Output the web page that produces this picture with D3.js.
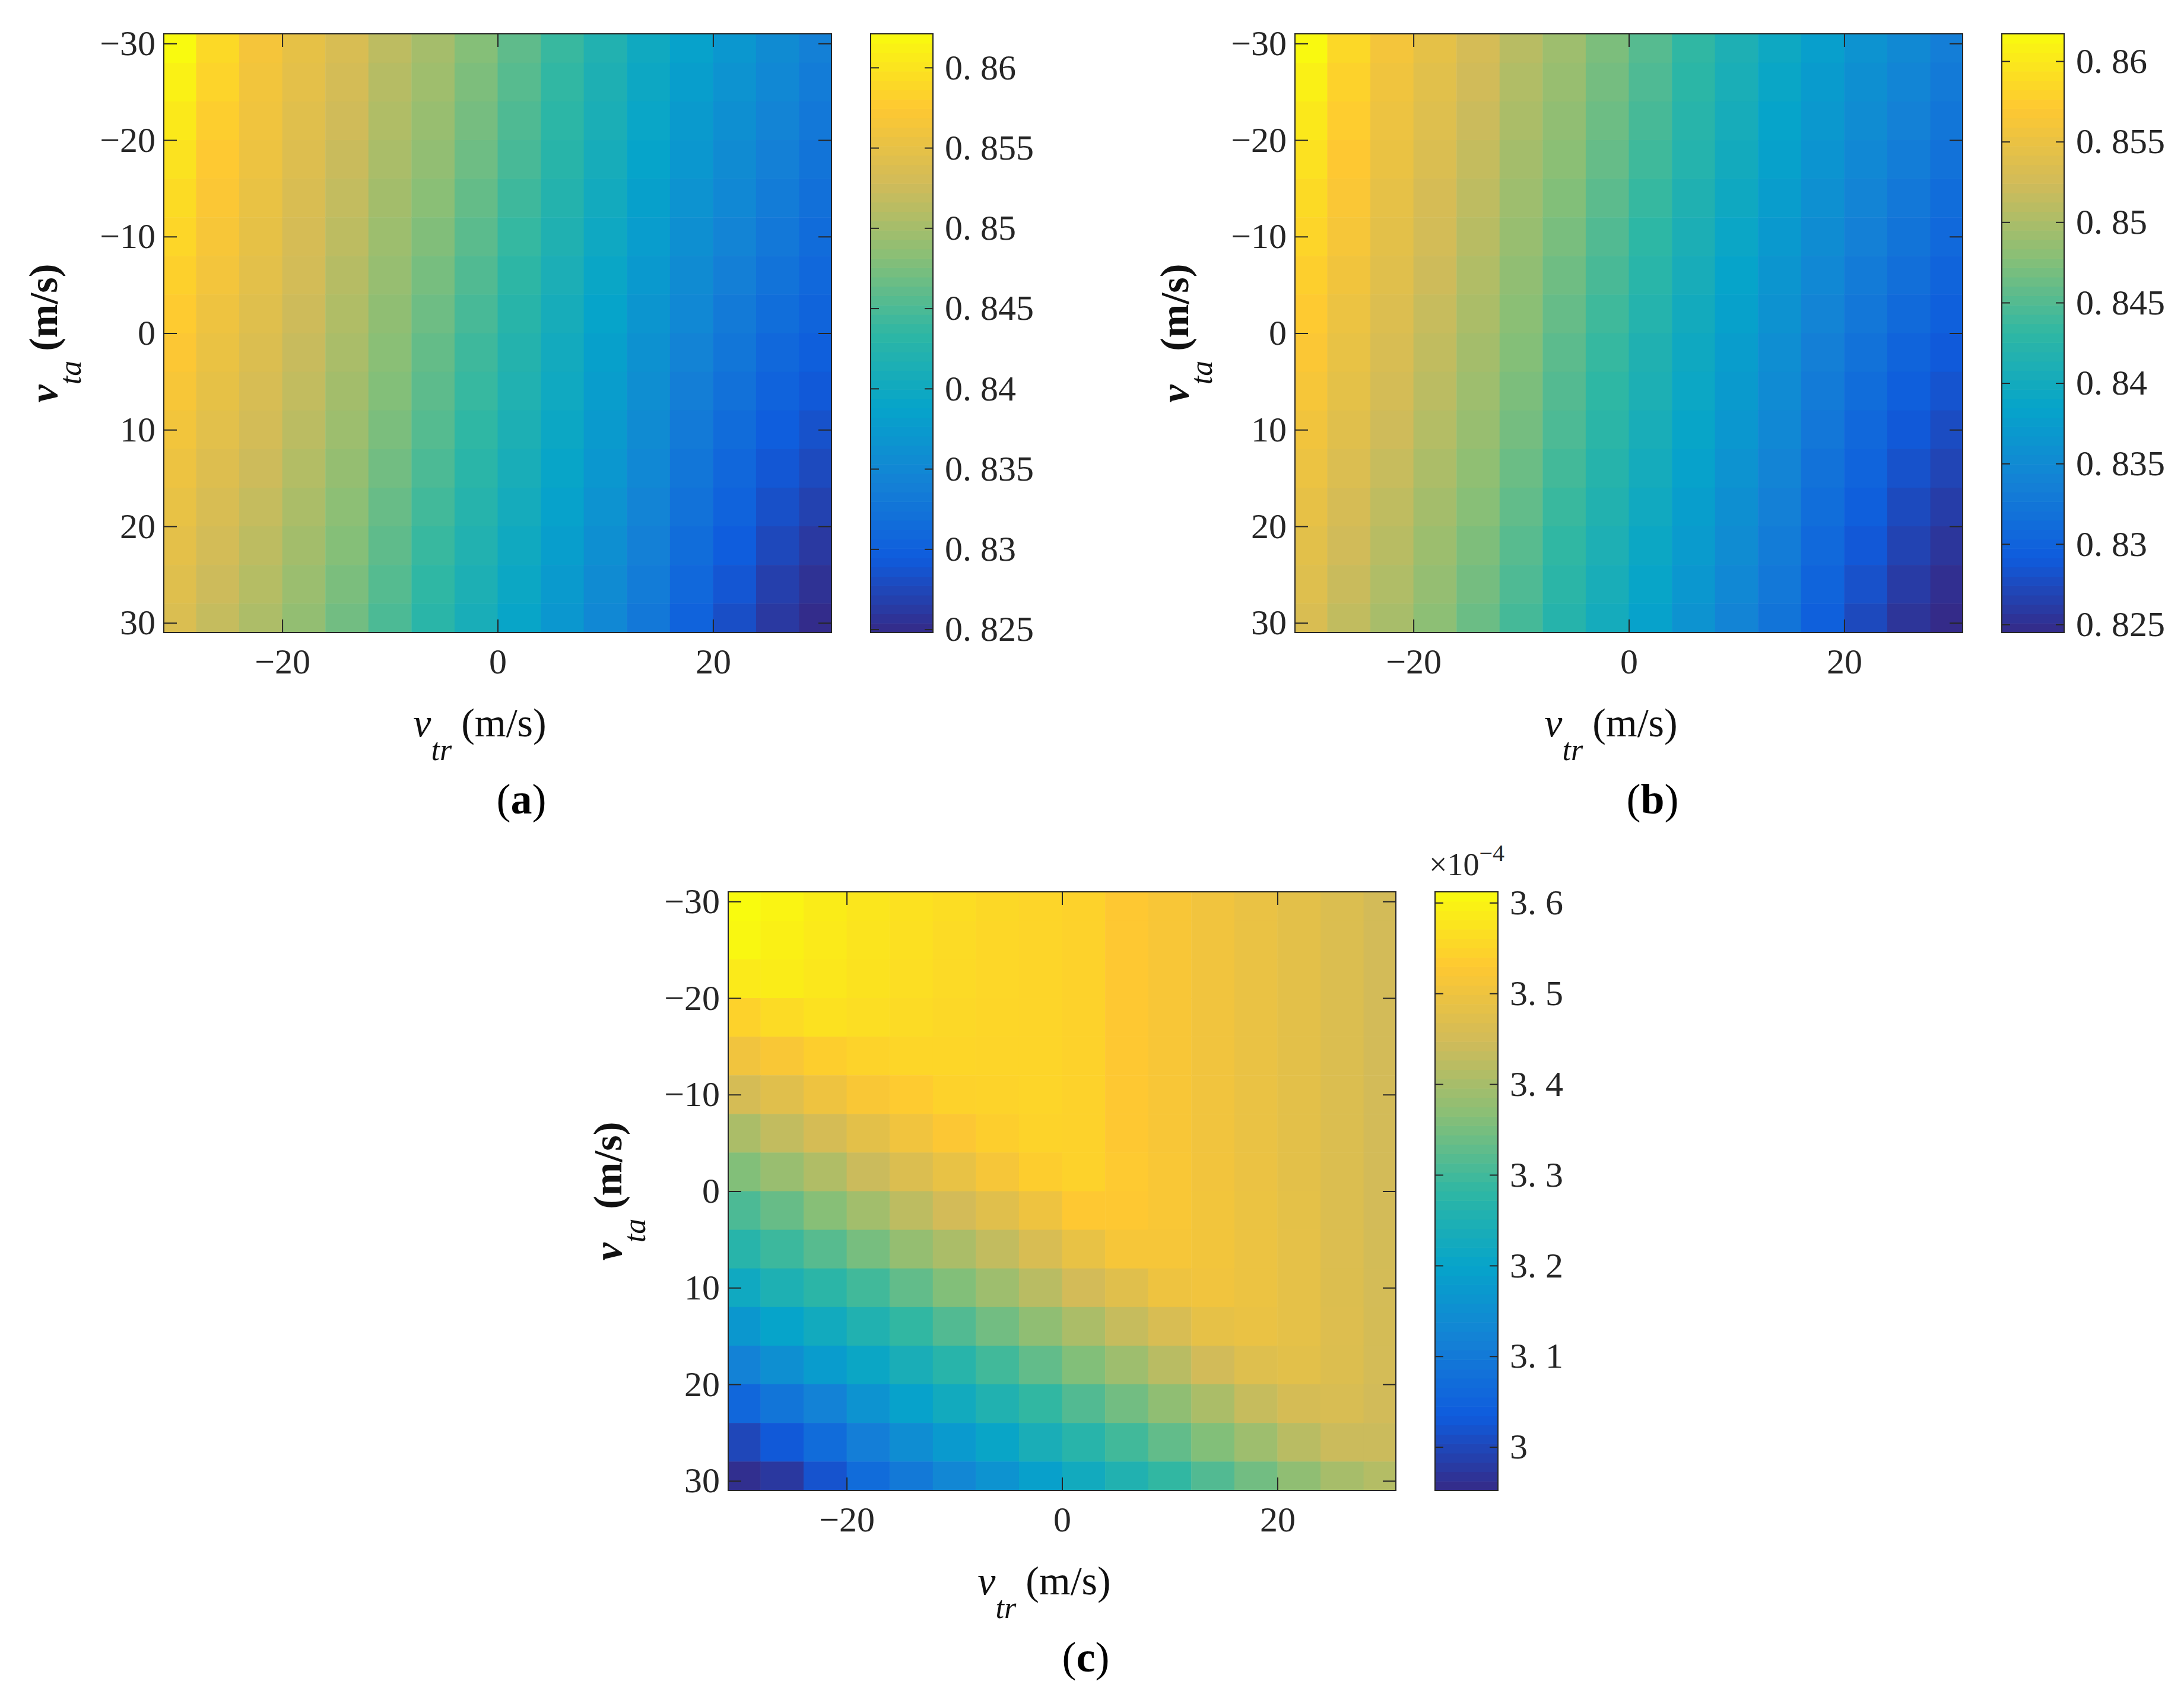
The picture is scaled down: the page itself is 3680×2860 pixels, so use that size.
<!DOCTYPE html>
<html><head><meta charset="utf-8">
<script src="https://cdn.jsdelivr.net/npm/d3@7"></script>
<style>body{margin:0;background:#fff}</style></head>
<body><svg id="c" width="3680" height="2860"></svg>
<script>
const gridX = [-30,-26,-22,-18,-14,-10,-6,-2,2,6,10,14,18,22,26,30];
const gridY = [-30,-26,-22,-18,-14,-10,-6,-2,2,6,10,14,18,22,26,30];
const axisTicksX = [-20,0,20];
const axisTicksY = [-30,-20,-10,0,10,20,30];
// panel (a), units of 1e-4
const valuesA = [
[8620,8590,8565,8550,8535,8515,8500,8480,8460,8440,8420,8400,8385,8370,8355,8340],
[8612,8585,8562,8547,8531,8511,8496,8476,8456,8436,8416,8396,8380,8365,8350,8335],
[8605,8580,8560,8543,8527,8507,8492,8472,8452,8432,8412,8392,8375,8360,8345,8330],
[8598,8575,8557,8540,8523,8503,8488,8468,8448,8428,8408,8388,8370,8355,8340,8325],
[8592,8571,8553,8536,8519,8499,8483,8463,8443,8423,8403,8383,8365,8350,8335,8320],
[8587,8567,8550,8533,8515,8495,8478,8458,8438,8418,8398,8378,8360,8345,8330,8315],
[8582,8563,8546,8530,8511,8491,8473,8453,8433,8413,8393,8373,8355,8339,8323,8310],
[8577,8558,8542,8526,8507,8487,8468,8448,8428,8408,8388,8368,8350,8333,8317,8305],
[8572,8554,8538,8522,8503,8483,8463,8443,8423,8403,8383,8363,8344,8327,8310,8298],
[8567,8550,8534,8518,8499,8479,8459,8439,8419,8399,8379,8359,8338,8321,8303,8292],
[8562,8545,8530,8514,8495,8475,8455,8435,8415,8395,8375,8355,8333,8315,8297,8285],
[8557,8540,8525,8509,8490,8470,8450,8430,8410,8390,8370,8350,8327,8309,8290,8278],
[8552,8535,8520,8504,8485,8465,8445,8425,8405,8385,8365,8345,8322,8303,8283,8270],
[8547,8530,8515,8499,8480,8460,8440,8420,8400,8380,8360,8340,8316,8296,8276,8262],
[8542,8525,8510,8494,8475,8455,8435,8415,8395,8375,8355,8335,8310,8289,8268,8255],
[8537,8520,8505,8489,8470,8450,8430,8410,8390,8370,8350,8330,8304,8282,8262,8250]];
// panel (b), units of 1e-4
const valuesB = [
[8615,8585,8560,8545,8528,8508,8492,8472,8452,8432,8412,8394,8378,8362,8348,8334],
[8607,8580,8556,8541,8524,8504,8488,8468,8448,8428,8408,8389,8373,8357,8343,8329],
[8600,8575,8553,8537,8520,8500,8484,8464,8444,8424,8404,8384,8368,8352,8338,8324],
[8593,8570,8550,8533,8516,8496,8480,8460,8440,8420,8400,8380,8363,8347,8333,8319],
[8587,8566,8546,8529,8512,8492,8475,8455,8435,8415,8395,8375,8358,8342,8327,8313],
[8582,8562,8543,8526,8508,8488,8470,8450,8430,8410,8390,8370,8353,8337,8322,8308],
[8577,8557,8539,8522,8504,8484,8465,8445,8425,8405,8385,8365,8347,8331,8316,8302],
[8572,8552,8535,8518,8500,8480,8460,8440,8420,8400,8380,8360,8342,8325,8309,8296],
[8567,8548,8531,8514,8496,8476,8455,8435,8415,8395,8375,8355,8336,8319,8302,8290],
[8562,8544,8527,8510,8492,8472,8451,8431,8411,8391,8371,8351,8330,8313,8295,8284],
[8557,8539,8523,8506,8488,8468,8447,8427,8407,8387,8367,8347,8325,8307,8289,8277],
[8552,8534,8518,8501,8483,8463,8442,8422,8402,8382,8362,8342,8319,8301,8282,8270],
[8547,8529,8513,8496,8478,8458,8437,8417,8397,8377,8357,8337,8314,8295,8275,8263],
[8542,8524,8508,8491,8473,8453,8432,8412,8392,8372,8352,8332,8308,8288,8268,8256],
[8537,8519,8503,8486,8468,8448,8427,8407,8387,8367,8347,8327,8302,8281,8261,8250],
[8532,8514,8498,8481,8463,8443,8422,8402,8382,8362,8342,8322,8296,8274,8255,8246]];
// panel (c), units of 1e-7
const valuesC = [
[3612,3600,3588,3578,3570,3563,3556,3550,3545,3530,3518,3505,3492,3480,3465,3450],
[3605,3595,3585,3575,3568,3560,3554,3550,3545,3530,3518,3505,3492,3480,3465,3450],
[3585,3588,3580,3572,3565,3558,3553,3550,3545,3530,3518,3505,3492,3480,3465,3450],
[3545,3560,3570,3565,3560,3555,3552,3550,3545,3530,3518,3505,3492,3480,3465,3450],
[3505,3520,3540,3548,3552,3552,3550,3550,3545,3530,3518,3505,3492,3480,3465,3450],
[3455,3475,3500,3520,3535,3545,3548,3550,3545,3530,3518,3505,3492,3480,3465,3450],
[3405,3430,3455,3480,3505,3525,3540,3548,3545,3530,3518,3505,3492,3480,3465,3450],
[3360,3385,3410,3440,3465,3490,3515,3538,3545,3532,3520,3507,3494,3480,3465,3450],
[3310,3335,3365,3395,3425,3450,3475,3500,3530,3530,3520,3508,3495,3482,3466,3450],
[3270,3295,3320,3350,3380,3405,3430,3460,3490,3515,3515,3508,3496,3483,3467,3451],
[3220,3250,3275,3300,3330,3360,3390,3420,3450,3475,3500,3505,3496,3484,3468,3452],
[3170,3200,3225,3255,3285,3315,3345,3375,3405,3435,3460,3485,3492,3484,3469,3453],
[3120,3150,3180,3210,3240,3270,3300,3330,3360,3390,3420,3448,3470,3478,3468,3452],
[3060,3090,3120,3160,3195,3225,3255,3285,3315,3345,3375,3405,3435,3455,3460,3448],
[3000,3030,3070,3110,3145,3175,3205,3240,3270,3300,3330,3360,3390,3420,3440,3440],
[2960,2975,3020,3070,3100,3130,3160,3190,3225,3255,3285,3315,3345,3375,3400,3415]];
const cbTicksA = [0.825,0.83,0.835,0.84,0.845,0.85,0.855,0.86];
const cbTicksC = [3.0,3.1,3.2,3.3,3.4,3.5,3.6];
const parula = ["#352a87","#0f5cdd","#1481d6","#06a4ca","#2eb7a4","#87bf77","#d1bb59","#fec832","#f9fb0e"];

const svg = d3.select("#c");
const FONT = "'Liberation Serif','DejaVu Serif',serif";
const TICKC = "#262626";
let pid=0;
function panel(o){
  const x = d3.scaleLinear().domain([-31,31]).range([o.x0,o.x1]);
  const y = d3.scaleLinear().domain([-31,31]).range([o.y0,o.y1]);
  const cs = d3.scaleLinear().domain(d3.range(parula.length).map(i=>o.cmin+(o.cmax-o.cmin)*i/(parula.length-1))).range(parula).clamp(true);
  const g = svg.append("g");
  const cid="clip"+(pid++);
  svg.append("clipPath").attr("id",cid).append("rect").attr("x",o.x0).attr("y",o.y0).attr("width",o.x1-o.x0).attr("height",o.y1-o.y0);
  const cells=[];
  o.vals.forEach((row,i)=>row.forEach((v,j)=>cells.push({x:gridX[j],y:gridY[i],v:v*o.unit})));
  g.append("g").attr("clip-path",`url(#${cid})`).selectAll("rect").data(cells).join("rect")
    .attr("x",d=>x(d.x-2)).attr("y",d=>y(d.y-2))
    .attr("width",d=>x(d.x+2)-x(d.x-2)+0.5).attr("height",d=>y(d.y+2)-y(d.y-2)+0.5)
    .attr("fill",d=>cs(d.v));
  const tl=22;
  const ax = g=>g.selectAll("text").attr("font-family",FONT).attr("font-size",60).attr("fill",TICKC);
  g.append("g").attr("transform",`translate(0,${o.y1})`).call(d3.axisBottom(x).tickValues(axisTicksX).tickSize(-tl).tickPadding(26).tickFormat(d=>d<0?"\u2212"+(-d):d)).call(ax);
  g.append("g").attr("transform",`translate(0,${o.y0})`).call(d3.axisTop(x).tickValues(axisTicksX).tickSize(-tl).tickFormat(""));
  g.append("g").attr("transform",`translate(${o.x0},0)`).call(d3.axisLeft(y).tickValues(axisTicksY).tickSize(-tl).tickPadding(14).tickFormat(d=>d<0?"\u2212"+(-d):d)).call(ax);
  g.append("g").attr("transform",`translate(${o.x1},0)`).call(d3.axisRight(y).tickValues(axisTicksY).tickSize(-tl).tickFormat(""));
  g.selectAll(".domain").remove();
  g.selectAll(".tick line").attr("stroke","#262626").attr("stroke-width",2);
  g.append("rect").attr("x",o.x0).attr("y",o.y0).attr("width",o.x1-o.x0).attr("height",o.y1-o.y0).attr("fill","none").attr("stroke","#262626").attr("stroke-width",2);
  // colorbar
  const cy = d3.scaleLinear().domain([o.cmin,o.cmax]).range([o.y1,o.y0]);
  const n=64;
  const steps=d3.range(n).map(i=>o.cmin+(o.cmax-o.cmin)*(i+0.5)/n);
  g.selectAll("rect.cb").data(steps).join("rect")
    .attr("x",o.cbx).attr("width",o.cbw)
    .attr("y",d=>cy(d+(o.cmax-o.cmin)/n/2)).attr("height",(o.y1-o.y0)/n+0.6)
    .attr("fill",d=>cs(d));
  g.append("g").attr("transform",`translate(${o.cbx+o.cbw},0)`).call(d3.axisRight(cy).tickValues(o.cbt).tickSize(-14).tickPadding(20).tickFormat(o.cbf)).call(ax);
  g.append("g").attr("transform",`translate(${o.cbx},0)`).call(d3.axisLeft(cy).tickValues(o.cbt).tickSize(-14).tickFormat(""));
  g.selectAll(".domain").remove();
  g.selectAll(".tick line").attr("stroke","#262626").attr("stroke-width",2);
  g.append("rect").attr("x",o.cbx).attr("y",o.y0).attr("width",o.cbw).attr("height",o.y1-o.y0).attr("fill","none").attr("stroke","#262626").attr("stroke-width",2);
  // labels
  const xm=(o.x0+o.x1)/2;
  const xl=g.append("text").attr("x",xm-30).attr("y",o.y1+175).attr("text-anchor","middle").attr("font-family",FONT).attr("font-size",68).attr("fill","#111");
  xl.append("tspan").attr("font-style","italic").text("v");
  xl.append("tspan").attr("font-style","italic").attr("font-size",52).attr("dy",40).text("tr");
  xl.append("tspan").attr("dy",-40).attr("dx",16).text("(m/s)");
  const ym=(o.y0+o.y1)/2;
  const yl=g.append("text").attr("transform",`translate(${o.x0-180},${ym}) rotate(-90)`).attr("text-anchor","middle").attr("font-family",FONT).attr("font-size",68).attr("fill","#111").attr("font-weight","bold");
  yl.append("tspan").attr("font-style","italic").text("v");
  yl.append("tspan").attr("font-style","italic").attr("font-weight","normal").attr("font-size",52).attr("dy",40).text("ta");
  yl.append("tspan").attr("dy",-40).attr("dx",16).text("(m/s)");
  const pl=g.append("text").attr("x",xm+40).attr("y",o.y1+305).attr("text-anchor","middle").attr("font-family",FONT).attr("font-size",72).attr("fill","#000");
  pl.append("tspan").text("(");pl.append("tspan").attr("font-weight","bold").text(o.lab);pl.append("tspan").text(")");
  if(o.mult){
    const m=g.append("text").attr("x",o.cbx-10).attr("y",o.y0-28).attr("font-family",FONT).attr("font-size",54).attr("fill",TICKC);
    m.append("tspan").text("\u00d710");m.append("tspan").attr("font-size",40).attr("dy",-24).text("\u22124");
  }
}
const fA=d=>d3.format(".3~f")(d).replace(".",". ");
panel({x0:276,x1:1401,y0:57,y1:1066,vals:valuesA,unit:1e-4,cmin:0.8248,cmax:0.8621,cbx:1467,cbw:105,cbt:cbTicksA,cbf:fA,lab:"a"});
panel({x0:2182,x1:3307,y0:57,y1:1066,vals:valuesB,unit:1e-4,cmin:0.8245,cmax:0.8617,cbx:3373,cbw:105,cbt:cbTicksA,cbf:fA,lab:"b"});
panel({x0:1227,x1:2352,y0:1503,y1:2512,vals:valuesC,unit:1e-3,cmin:2.952,cmax:3.612,cbx:2418,cbw:106,cbt:cbTicksC,cbf:d=>d===3?"3":d3.format(".1f")(d).replace(".",". "),lab:"c",mult:true});
</script></body></html>
